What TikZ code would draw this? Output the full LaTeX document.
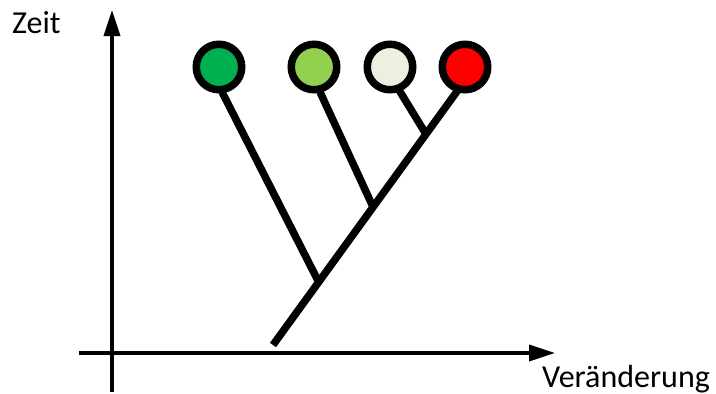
\documentclass[tikz,border=0pt]{standalone}
\usepackage{fontspec}
\setmainfont{Carlito}
\usetikzlibrary{arrows.meta,calc,backgrounds}
\definecolor{gA}{HTML}{00B050}
\definecolor{gB}{HTML}{92D050}
\definecolor{gC}{HTML}{EBF1DE}
\definecolor{gD}{HTML}{FF0000}
\tikzset{
  axis/.style={line width=3.6pt,-{Triangle[length=26pt,width=16pt]}},
  branch/.style={line width=7.5pt},
  leaf/.style={circle,draw=black,line width=7.5pt,minimum size=45.5pt,inner sep=0pt},
  lbl/.style={anchor=base west,inner sep=0pt,font=\fontsize{32}{38}\selectfont}
}
\begin{document}
\begin{tikzpicture}[x=1pt,y=-1pt]
\useasboundingbox (0,0) rectangle (716,394);
% axes
\coordinate (yb) at (112,392);
\coordinate (yt) at (112,10);
\coordinate (xl) at (79,353);
\coordinate (xr) at (555,353);
\draw[axis] (yb) -- (yt);
\draw[axis] (xl) -- (xr);
\node[lbl] (zeit) at (12,33) {Zeit};
\node[lbl] (ver) at (542,387) {Veränderung};
% leaves
\node[leaf,fill=gA] (c1) at (219,67) {};
\node[leaf,fill=gB] (c2) at (314,67) {};
\node[leaf,fill=gC] (c3) at (390,67) {};
\node[leaf,fill=gD] (c4) at (465,67) {};
% tree
\coordinate (t0) at (273,345);
\coordinate (t1) at (458,90);
\coordinate (j1) at ($(t0)!0.247!(t1)$);
\coordinate (j2) at ($(t0)!0.541!(t1)$);
\coordinate (j3) at ($(t0)!0.827!(t1)$);
\coordinate (s1) at (222,92);
\coordinate (s2) at (320,92);
\coordinate (s3) at (399,90);
\begin{scope}[on background layer]
\draw[branch] (t0) -- (t1);
\draw[branch] (j1) -- (s1);
\draw[branch] (j2) -- (s2);
\draw[branch] (j3) -- (s3);
\end{scope}
\end{tikzpicture}
\end{document}
